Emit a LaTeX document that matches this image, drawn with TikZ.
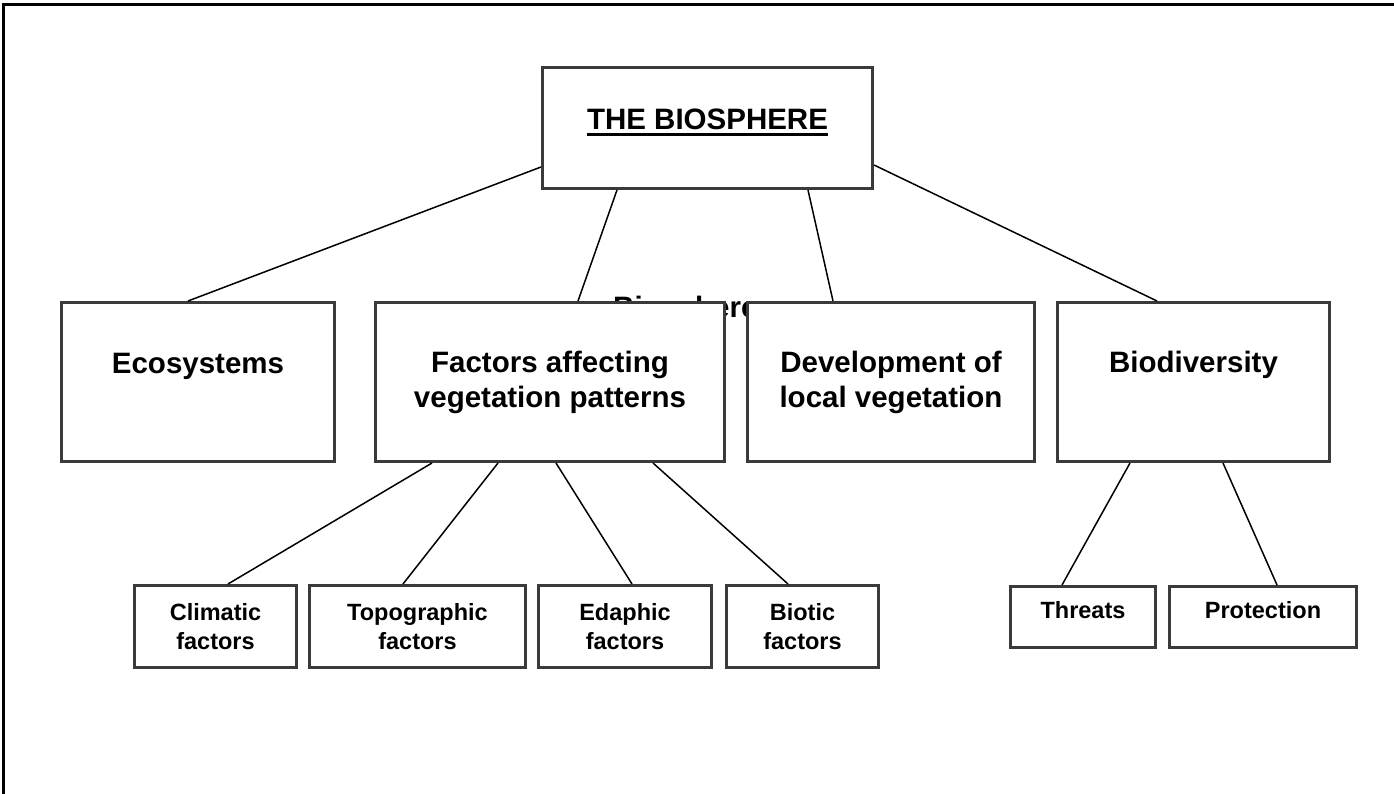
\documentclass[tikz,border=0pt]{standalone}
\usepackage{fontspec}
\setmainfont{Liberation Sans}
\usetikzlibrary{calc}
\definecolor{boxline}{HTML}{3A3A3A}
\newcommand{\thickul}[1]{\setbox0\hbox{#1}\rlap{\rule[-7pt]{\wd0}{3pt}}\box0}
\newcommand{\up}[2]{\raisebox{#1}[\height][\depth]{#2}}
\tikzset{
  bigbox/.style={draw=boxline, line width=3pt, fill=white, inner sep=0pt, align=center,
    font=\fontsize{29.5}{35}\selectfont\bfseries, minimum height=159pt},
  smallbox/.style={draw=boxline, line width=3pt, fill=white, inner sep=0pt, align=center,
    font=\fontsize{23.5}{29}\selectfont\bfseries},
  conn/.style={draw=black, line width=1.5pt},
  frameline/.style={draw=black, line width=3pt},
  hidden/.style={inner sep=0pt, font=\fontsize{29.5}{35}\selectfont\bfseries}
}
\begin{document}
\begin{tikzpicture}[x=1pt, y=-1pt]
\useasboundingbox (0,0) rectangle (1394,794);
% outer frame (top and left edges)
\coordinate (fbl) at (3.5,800);
\coordinate (ftl) at (3.5,4.5);
\coordinate (ftr) at (1400,4.5);
\draw[frameline] (fbl) -- (ftl) -- (ftr);

% text hidden behind the boxes
\node[hidden, anchor=base west] (bsph) at (613,317) {Biosphere};

% boxes
\node[bigbox, minimum width=330pt, minimum height=121pt] (top) at (707.5,128) {\up{5.5pt}{\thickul{THE BIOSPHERE}}};
\node[bigbox, minimum width=273pt] (eco) at (198,382) {\up{16pt}{Ecosystems}};
\node[bigbox, minimum width=349pt] (fac) at (550,382) {Factors affecting\\vegetation patterns};
\node[bigbox, minimum width=287pt] (dev) at (891,382) {Development of\\local vegetation};
\node[bigbox, minimum width=272pt] (bio) at (1193.5,382) {\up{17pt}{Biodiversity}};

\node[smallbox, minimum width=162pt, minimum height=82pt] (cli) at (215.5,626.5) {Climatic\\factors};
\node[smallbox, minimum width=216pt, minimum height=82pt] (topo) at (417.5,626.5) {Topographic\\factors};
\node[smallbox, minimum width=173pt, minimum height=82pt] (eda) at (625,626.5) {Edaphic\\factors};
\node[smallbox, minimum width=152pt, minimum height=82pt] (biot) at (802.5,626.5) {Biotic\\factors};
\node[smallbox, minimum width=145pt, minimum height=61pt] (thr) at (1083,617) {\up{7pt}{Threats}};
\node[smallbox, minimum width=187pt, minimum height=61pt] (pro) at (1263,617) {\up{7pt}{Protection}};

% connectors
\draw[conn] (top.west |- 0,167) -- (eco.north -| 188,0);
\draw[conn] (top.south -| 617,0) -- (fac.north -| 578,0);
\draw[conn] (top.south -| 808,0) -- (dev.north -| 833,0);
\draw[conn] (top.east |- 0,165) -- (bio.north -| 1157,0);
\draw[conn] (fac.south -| 432,0) -- (cli.north -| 228,0);
\draw[conn] (fac.south -| 498,0) -- (topo.north -| 403,0);
\draw[conn] (fac.south -| 556,0) -- (eda.north -| 632,0);
\draw[conn] (fac.south -| 653,0) -- (biot.north -| 788,0);
\draw[conn] (bio.south -| 1130,0) -- (thr.north -| 1062,0);
\draw[conn] (bio.south -| 1223,0) -- (pro.north -| 1277,0);
\end{tikzpicture}
\end{document}
